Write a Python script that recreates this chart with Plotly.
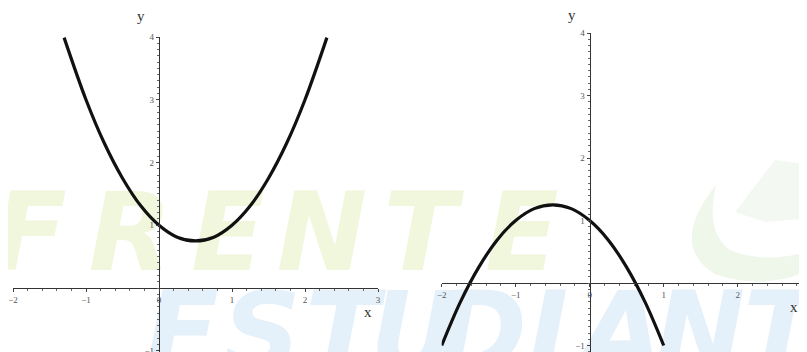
import plotly.graph_objects as go

W, H = 807, 352
OFF = 8  # page body margin in the screenshot

# ---- data ----
left_x = [-1.3, -1.0, -0.75, -0.5, -0.25, 0.0, 0.25, 0.5, 0.75, 1.0, 1.25, 1.5, 1.75, 2.0, 2.3]
left_y = [3.99, 3.0, 2.31, 1.75, 1.31, 1.0, 0.81, 0.75, 0.81, 1.0, 1.31, 1.75, 2.31, 3.0, 3.99]

right_x = [-2.0, -1.75, -1.5, -1.25, -1.0, -0.75, -0.5, -0.25, 0.0, 0.25, 0.5, 0.75, 1.0]
right_y = [-1.0, -0.31, 0.25, 0.69, 1.0, 1.19, 1.25, 1.19, 1.0, 0.69, 0.25, -0.31, -1.0]

left_xticks = [-2, -1, 0, 1, 2, 3]
left_yticks = [-1, 1, 2, 3, 4]
right_xticks = [-2, -1, 0, 1, 2]
right_yticks = [-1, 1, 2, 3, 4]

watermark_top = "FRENTE"
watermark_bottom = "ESTUDIANTIL"


def px(x):
    return (x - OFF) / W


def py(y):
    return 1 - (y - OFF) / H


fig = go.Figure()

# watermark letters on a hidden full-page axis (first subplot -> drawn below the panels)
top_cx = [30, 130, 228, 322, 420, 522]
bot_cx = [182, 262, 342, 414, 482, 548, 622, 700, 780, 850, 915]
wm_x = [px(c) for c in top_cx] + [px(c) for c in bot_cx]
wm_y = [py(243)] * len(top_cx) + [py(342)] * len(bot_cx)
wm_t = list(watermark_top) + list(watermark_bottom)
wm_c = ["#f1f7dc"] * len(top_cx) + ["#e4f0fa"] * len(bot_cx)
fig.add_trace(go.Scatter(
    x=wm_x, y=wm_y, text=wm_t, mode="text",
    textfont=dict(size=108, color=wm_c, family="DejaVu Sans", weight="bold", style="italic"),
    xaxis="x", yaxis="y", hoverinfo="skip", showlegend=False,
))

line_style = dict(color="#111111", width=3.2, shape="spline")
fig.add_trace(go.Scatter(x=left_x, y=left_y, mode="lines", line=line_style,
                         xaxis="x2", yaxis="y2", showlegend=False, hoverinfo="skip"))
fig.add_trace(go.Scatter(x=right_x, y=right_y, mode="lines", line=line_style,
                         xaxis="x3", yaxis="y3", showlegend=False, hoverinfo="skip"))

tickfont = dict(family="Liberation Serif", size=9, color="#555555")
common = dict(showgrid=False, zeroline=False, showline=True, linecolor="#333333", linewidth=1.2,
              ticks="outside", ticklen=3, tickwidth=1, tickcolor="#444444", tickfont=tickfont,
              fixedrange=True, automargin=False)
minor_x = dict(dtick=0.2, ticklen=2, tickcolor="#666", ticks="outside")
minor_y = dict(dtick=0.1, ticklen=2, tickcolor="#666", ticks="outside")

BOTTOM = H + OFF   # reference pixel of the div's bottom edge
RIGHT = W + OFF    # reference pixel of the div's right edge

# left panel geometry (reference pixels)
L_x0, L_x1 = 13, 378          # x=-2 .. x=3
L_ytop, L_yzero = 37, 288     # y=4 , y=0
L_scale = (L_yzero - L_ytop) / 4
L_ymin = -(BOTTOM - L_yzero) / L_scale
L_xorigin = L_x0 + 2 / 5 * (L_x1 - L_x0)

# right panel geometry
R_x0 = 441.7
R_sx = 74.0
R_xmax = (RIGHT - R_x0) / R_sx - 2
R_ytop, R_yzero = 33, 283
R_scale = (R_yzero - R_ytop) / 4
R_ymin = -(BOTTOM - R_yzero) / R_scale
R_xorigin = R_x0 + 2 * R_sx

fig.update_layout(
    template="none",
    width=W, height=H, margin=dict(l=0, r=0, t=0, b=0, pad=0),
    paper_bgcolor="white", plot_bgcolor="rgba(0,0,0,0)",
    xaxis=dict(domain=[0, 1], range=[0, 1], visible=False, fixedrange=True, automargin=False),
    yaxis=dict(domain=[0, 1], range=[0, 1], visible=False, fixedrange=True, automargin=False),
    xaxis2=dict(domain=[px(L_x0), px(L_x1)], range=[-2, 3], anchor="free", position=py(L_yzero),
                tickvals=left_xticks, minor=minor_x, **common),
    yaxis2=dict(domain=[0, py(L_ytop)], range=[L_ymin, 4], anchor="free", position=px(L_xorigin),
                tickvals=left_yticks, minor=minor_y, **common),
    xaxis3=dict(domain=[px(R_x0), 1], range=[-2, R_xmax], anchor="free", position=py(R_yzero),
                tickvals=right_xticks, minor=minor_x, **common),
    yaxis3=dict(domain=[0, py(R_ytop)], range=[R_ymin, 4], anchor="free", position=px(R_xorigin),
                tickvals=right_yticks, minor=minor_y, **common),
)

# axis letters
lab = dict(family="Liberation Serif", size=15, color="#333333")
for text, x, y in [("y", 141, 16), ("x", 368, 312), ("y", 572, 15), ("x", 794, 307)]:
    fig.add_annotation(text=text, x=px(x), y=py(y), xref="paper", yref="paper",
                       showarrow=False, font=lab, xanchor="center", yanchor="middle")


# faint swoosh logo at right
def P(x, y):
    return f"{px(x):.4f},{py(y):.4f}"


swoosh = (f"M {P(716,185)} Q {P(668,245)} {P(715,274)} Q {P(765,292)} {P(815,268)} "
          f"L {P(815,250)} Q {P(765,265)} {P(730,250)} Q {P(705,232)} {P(716,185)} Z")
fig.add_shape(type="path", path=swoosh, xref="paper", yref="paper", layer="below",
              fillcolor="#eef7ea", line=dict(width=0))
block = f"M {P(735,212)} L {P(775,160)} L {P(815,165)} L {P(815,218)} L {P(765,222)} Z"
fig.add_shape(type="path", path=block, xref="paper", yref="paper", layer="below",
              fillcolor="#f4f8f2", line=dict(width=0))

fig.write_html("out.html")
